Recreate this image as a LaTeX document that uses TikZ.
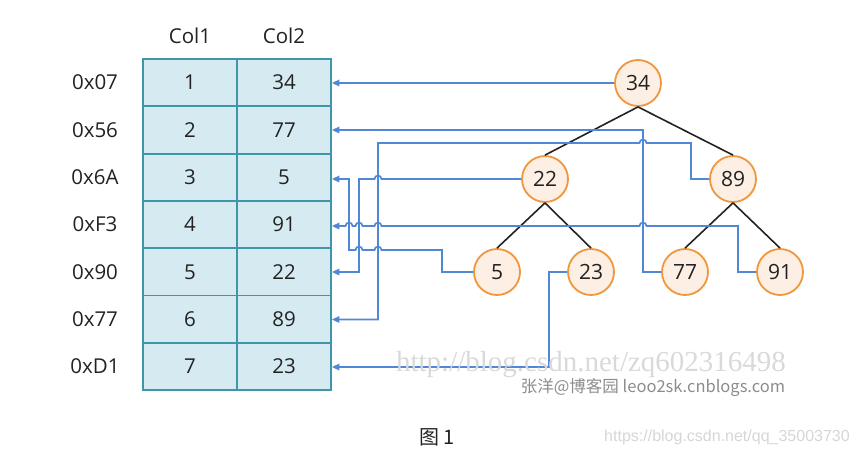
\documentclass[tikz,border=0pt]{standalone}
\usepackage{fontspec}
\setmainfont{Open Sans}
\newfontfamily\cjk{Noto Sans CJK SC}
\newfontfamily\wmserif{Liberation Serif}
\newfontfamily\wmsans{Liberation Sans}
\usetikzlibrary{arrows.meta}
\definecolor{cellfill}{RGB}{214,235,241}
\definecolor{celldraw}{RGB}{62,150,166}
\definecolor{nodefill}{RGB}{253,239,227}
\definecolor{nodedraw}{RGB}{240,150,60}
\definecolor{conncol}{RGB}{80,135,215}
\definecolor{txt}{RGB}{34,34,34}
\begin{document}
\begin{tikzpicture}[x=1pt,y=-1pt,
  cell/.style={draw=celldraw, fill=cellfill, line width=1.8pt, minimum width=94pt, minimum height=47.3pt, inner sep=0pt, font=\fontsize{20.5}{24}\selectfont, text=txt},
  tnode/.style={circle, draw=nodedraw, fill=nodefill, line width=1.8pt, minimum size=46pt, inner sep=0pt, font=\fontsize{21}{24}\selectfont, text=txt},
  lbl/.style={font=\fontsize{20.5}{24}\selectfont, text=txt, inner sep=0pt},
  tedge/.style={txt, line width=1.6pt},
  conn/.style={conncol, line width=1.7pt, -{Triangle[length=7.5pt,width=6.5pt]}},
]
\useasboundingbox (0,0) rectangle (858,456);

% headers
\node[lbl] (h1) at (190,36) {Col1};
\node[lbl] (h2) at (284,36) {Col2};

% table
\foreach \i/\lab/\a/\b in {1/0x07/1/34, 2/0x56/2/77, 3/0x6A/3/5, 4/0xF3/4/91, 5/0x90/5/22, 6/0x77/6/89, 7/0xD1/7/23}{
  \node[cell] (a\i) at (190,{59+47.3*(\i-0.5)}) {\a};
  \node[cell] (b\i) at (284,{59+47.3*(\i-0.5)}) {\b};
  \node[lbl] (r\i) at (95,{59+47.3*(\i-0.5)}) {\lab};
}

% tree
\node[tnode] (n34) at (638,83) {34};
\node[tnode] (n22) at (545,179) {22};
\node[tnode] (n89) at (733,179) {89};
\node[tnode] (n5) at (497,272) {5};
\node[tnode] (n23) at (591,272) {23};
\node[tnode] (n77) at (685,272) {77};
\node[tnode] (n91) at (780,272) {91};

\draw[tedge] (n34.south) -- (n22.north);
\draw[tedge] (n34.south) -- (n89.north);
\draw[tedge] (n22.south) -- (n5.north);
\draw[tedge] (n22.south) -- (n23.north);
\draw[tedge] (n89.south) -- (n77.north);
\draw[tedge] (n89.south) -- (n91.north);

% connectors
\coordinate (q1) at (n34.west);
\draw[conn] (n34.west) -- (b1.east |- q1);

\coordinate (q2) at (643,130);
\draw[conn] (n77.west) -- (643,272) -- (q2) -- (b2.east |- q2);

\coordinate (q6) at (378,319.5);
\draw[conn] (n89.west) -- (691,179) -- (691,143) -- (646.5,143)
  .. controls (646.5,138.5) and (639.5,138.5) .. (639.5,143)
  -- (378,143) -- (q6) -- (b6.east |- q6);

\coordinate (q5) at (359,272);
\draw[conn] (n22.west) -- (381.5,179)
  .. controls (381.5,174.5) and (374.5,174.5) .. (374.5,179)
  -- (359,179) -- (q5) -- (b5.east |- q5);

\coordinate (q3) at (349,179);
\draw[conn] (n5.west) -- (442,272) -- (442,250) -- (381.5,250)
  .. controls (381.5,245.5) and (374.5,245.5) .. (374.5,250)
  -- (362.5,250)
  .. controls (362.5,245.5) and (355.5,245.5) .. (355.5,250)
  -- (349,250) -- (q3) -- (b3.east |- q3);

\coordinate (q4) at (345.5,226);
\draw[conn] (n91.west) -- (738,272) -- (738,226) -- (646.5,226)
  .. controls (646.5,221.5) and (639.5,221.5) .. (639.5,226)
  -- (381.5,226)
  .. controls (381.5,221.5) and (374.5,221.5) .. (374.5,226)
  -- (362.5,226)
  .. controls (362.5,221.5) and (355.5,221.5) .. (355.5,226)
  -- (352.5,226)
  .. controls (352.5,221.5) and (345.5,221.5) .. (q4)
  -- (b4.east |- q4);

\coordinate (q7) at (549,367);
\draw[conn] (n23.west) -- (549,272) -- (q7) -- (b7.east |- q7);

% watermarks and caption
\node[inner sep=0pt, text=black!15, font=\wmserif\fontsize{29}{30}\selectfont] (wm1) at (591,365) {http://blog.csdn.net/zq602316498};
\node[inner sep=0pt, text=black!45, font=\cjk\fontsize{16.5}{18}\selectfont] (wm2) at (653,388) {张洋@博客园 leoo2sk.cnblogs.com};
\node[inner sep=0pt, text=txt, font=\cjk\fontsize{20}{22}\selectfont] (cap) at (437,437) {图 1};
\node[inner sep=0pt, text=black!16, font=\wmsans\fontsize{16}{18}\selectfont] (wm3) at (727,437) {https://blog.csdn.net/qq\_35003730};
\end{tikzpicture}
\end{document}
